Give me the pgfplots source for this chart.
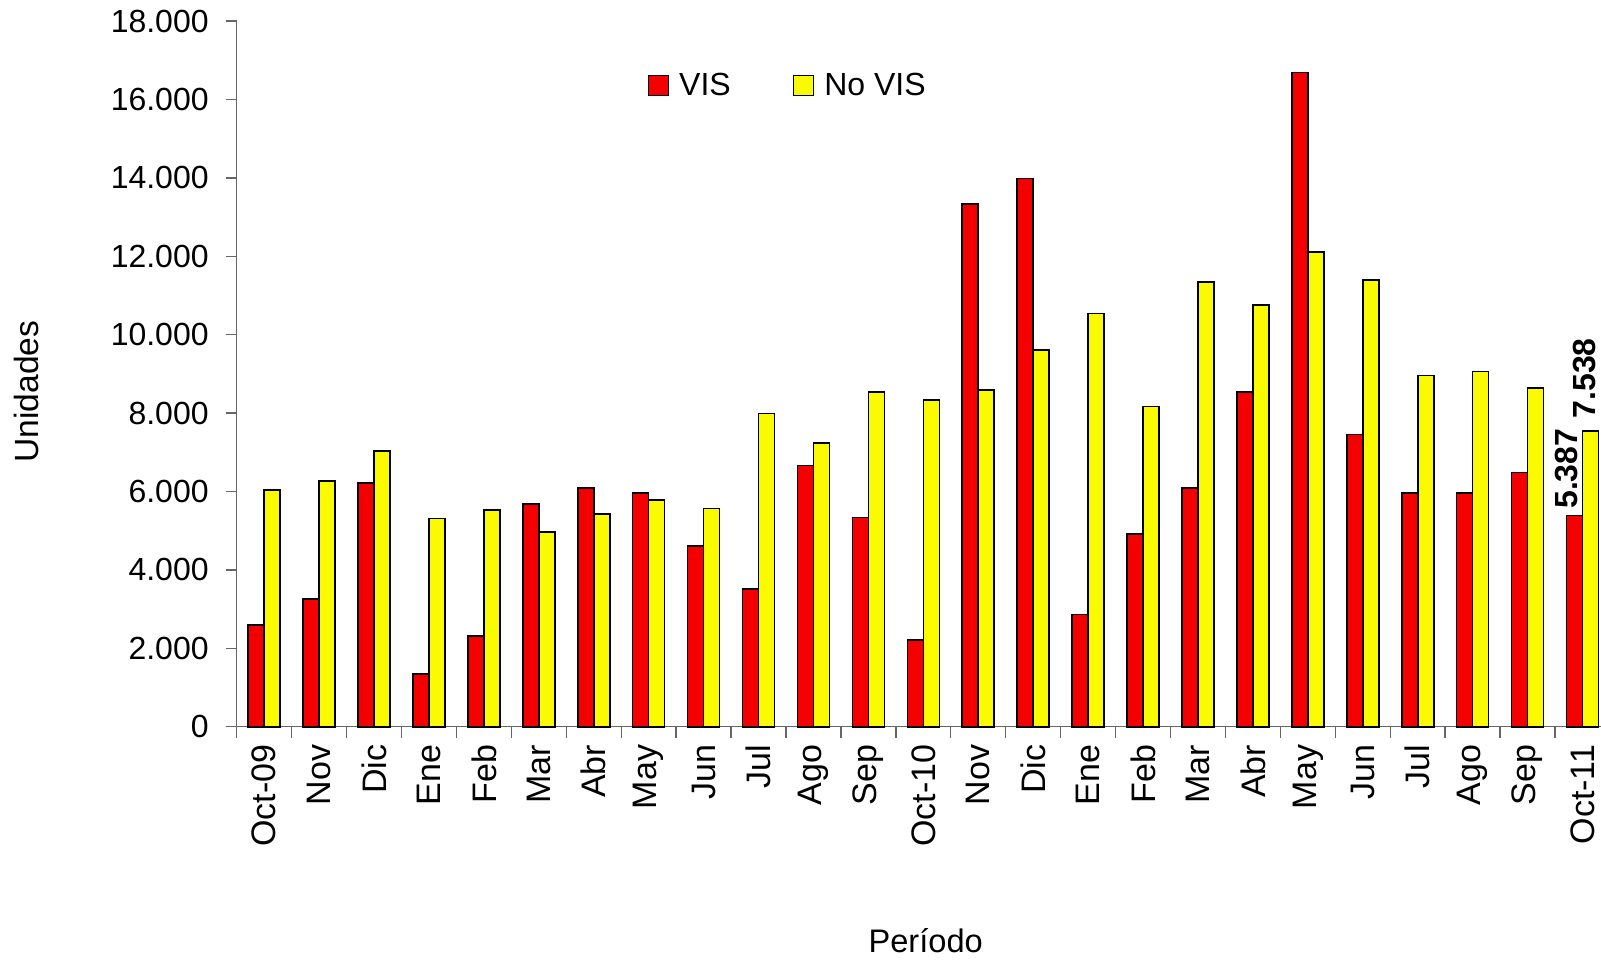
\documentclass[border=0pt]{standalone}
\usepackage{fontspec}
\setmainfont{Liberation Sans}
\usepackage{pgfplots}
\pgfplotsset{compat=1.18}
\definecolor{visred}{RGB}{245,0,0}
\definecolor{novisyel}{RGB}{250,250,0}
\begin{document}
\begin{tikzpicture}
\begin{axis}[
  at={(0,0)}, anchor=south west,
  scale only axis,
  width=682.15pt, height=352.85pt,
  xmin=-0.5, xmax=24.337,
  ymin=0, ymax=18000,
  clip=false,
  ybar=0pt, bar width=8pt,
  axis x line=bottom, axis y line=left,
  axis line style={draw=black!60, line width=0.7pt, -},
  xtick={0,...,24},
  xticklabels={Oct-09,Nov,Dic,Ene,Feb,Mar,Abr,May,Jun,Jul,Ago,Sep,Oct-10,Nov,Dic,Ene,Feb,Mar,Abr,May,Jun,Jul,Ago,Sep,Oct-11},
  major x tick style={draw=none},
  minor xtick={-0.5,0.5,...,23.5},
  tick align=outside,
  major tick length=5.5pt, minor tick length=5.5pt,
  tick style={draw=black!60, line width=0.7pt},
  ytick={0,2000,...,18000},
  scaled y ticks=false,
  /pgf/number format/assume math mode=true,
  yticklabel style={/pgf/number format/1000 sep={.}, font=\fontsize{16}{19}\selectfont, xshift=-5pt},
  xticklabel style={rotate=90, anchor=east, font=\fontsize{17}{20}\selectfont},
  xlabel={Período}, ylabel={Unidades},
  xlabel style={at={(axis description cs:0.505,-0.3037)}, anchor=center, font=\fontsize{16.3}{19}\selectfont},
  ylabel style={at={(axis description cs:-0.1544,0.475)}, anchor=center, font=\fontsize{16.8}{20}\selectfont},
  legend style={at={(axis description cs:0.2965,0.9086)}, anchor=west, draw=none, fill=none,
    legend columns=2, font=\fontsize{16}{19}\selectfont,
    /tikz/every even column/.append style={column sep=29pt}},
  legend image code/.code={\draw[#1] (0pt,-5pt) rectangle (10pt,5pt); \path (13pt,0pt);},
]
\addplot[draw=black, line width=0.8pt, fill=visred,
  nodes near coords={\ifnum\coordindex=24 \pgfmathprintnumber[1000 sep={.}]{\pgfplotspointmeta}\fi},
  every node near coord/.append style={xshift=-4pt, rotate=90, anchor=west, inner sep=3pt, text=black,
    font=\bfseries\fontsize{16}{19}\selectfont}]
coordinates {
(0,2600) (1,3250) (2,6220) (3,1350) (4,2320) (5,5680) (6,6090) (7,5960) (8,4610) (9,3510)
(10,6660) (11,5340) (12,2210) (13,13330) (14,13980) (15,2860) (16,4920) (17,6090) (18,8540)
(19,16690) (20,7450) (21,5960) (22,5960) (23,6480) (24,5387)
};
\addlegendentry{VIS}
\addplot[draw=black, line width=0.8pt, fill=novisyel,
  nodes near coords={\ifnum\coordindex=24 \pgfmathprintnumber[1000 sep={.}]{\pgfplotspointmeta}\fi},
  every node near coord/.append style={xshift=-3pt, rotate=90, anchor=west, inner sep=6pt, text=black,
    font=\bfseries\fontsize{16}{19}\selectfont}]
coordinates {
(0,6040) (1,6270) (2,7030) (3,5310) (4,5520) (5,4970) (6,5420) (7,5780) (8,5570) (9,7990)
(10,7240) (11,8540) (12,8330) (13,8590) (14,9610) (15,10540) (16,8170) (17,11350) (18,10750)
(19,12110) (20,11400) (21,8960) (22,9060) (23,8640) (24,7538)
};
\addlegendentry{No VIS}
\end{axis}
\pgfresetboundingbox
\useasboundingbox (-118.35pt,-116.15pt) rectangle (682.15pt,363.35pt);
\end{tikzpicture}
\end{document}
